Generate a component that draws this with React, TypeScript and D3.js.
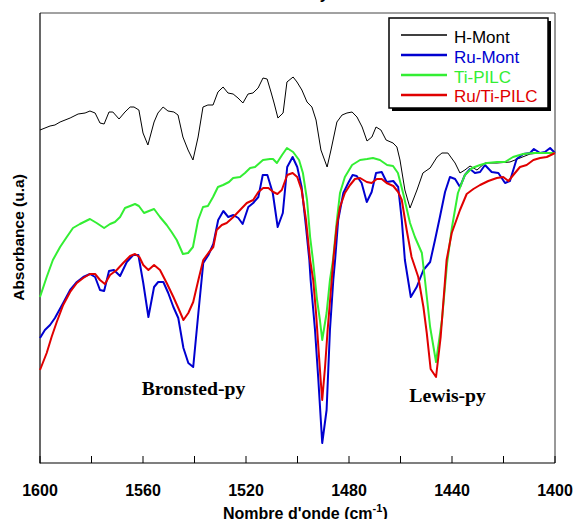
import React from "react";
import * as d3 from "d3";

// wavenumber (cm-1), absorbance (u.a)
const hMont: [number, number][] = [
  [1600, 3.33], [1596.1, 3.37], [1594.2, 3.38], [1592.2, 3.41], [1588.3, 3.45], [1585.2, 3.49],
  [1582.5, 3.5], [1580.6, 3.52], [1578.6, 3.5], [1576.7, 3.4], [1575.1, 3.39], [1573.2, 3.51],
  [1571.7, 3.51], [1569.3, 3.44], [1567.0, 3.51], [1565.0, 3.56], [1563.5, 3.56], [1561.6, 3.53],
  [1560.0, 3.3], [1558.1, 3.18], [1555.7, 3.41], [1554.2, 3.5], [1552.2, 3.56], [1550.3, 3.52],
  [1548.0, 3.51], [1546.4, 3.48], [1544.5, 3.26], [1542.5, 3.13], [1540.6, 3.03], [1538.6, 3.26],
  [1536.7, 3.56], [1534.8, 3.58], [1532.8, 3.58], [1530.9, 3.71], [1528.9, 3.76], [1527.0, 3.7],
  [1525.0, 3.69], [1523.1, 3.65], [1521.2, 3.6], [1519.2, 3.69], [1517.3, 3.7], [1515.3, 3.75],
  [1513.4, 3.85], [1511.8, 3.84], [1510.3, 3.71], [1509.1, 3.6], [1507.6, 3.45], [1505.6, 3.5],
  [1504.1, 3.81], [1501.7, 3.86], [1500.2, 3.81], [1498.3, 3.73], [1496.3, 3.61], [1494.4, 3.56],
  [1492.8, 3.43], [1490.9, 3.13], [1488.5, 2.96], [1487.0, 3.13], [1484.7, 3.41], [1482.7, 3.48],
  [1480.8, 3.5], [1478.8, 3.51], [1476.9, 3.46], [1474.9, 3.36], [1473.0, 3.22], [1471.1, 3.26],
  [1469.5, 3.36], [1467.6, 3.33], [1465.6, 3.23], [1462.9, 3.2], [1461.4, 3.16], [1460.2, 3.03],
  [1458.3, 2.73], [1456.3, 2.55], [1453.6, 2.73], [1451.3, 2.9], [1448.5, 2.95], [1445.8, 3.06],
  [1443.9, 3.1], [1441.6, 3.1], [1438.8, 3.0], [1436.9, 2.9], [1435.0, 2.93], [1433.0, 2.97],
  [1430.3, 2.93], [1427.2, 3.0], [1422.5, 3.0], [1417.5, 3.01], [1413.6, 3.05], [1409.7, 3.09],
  [1405.8, 3.1], [1400, 3.1],
];

const ruMont: [number, number][] = [
  [1600, 1.25], [1598.1, 1.33], [1596.1, 1.38], [1594.2, 1.45], [1591.0, 1.6], [1588.3, 1.73],
  [1585.7, 1.81], [1583.2, 1.86], [1580.6, 1.89], [1578.6, 1.86], [1576.7, 1.73], [1575.1, 1.72],
  [1573.2, 1.92], [1571.3, 1.93], [1568.9, 1.87], [1566.3, 2.01], [1563.8, 2.08], [1561.8, 2.08],
  [1559.9, 1.8], [1557.9, 1.46], [1555.7, 1.76], [1554.1, 1.81], [1552.1, 1.81], [1550.2, 1.7],
  [1548.2, 1.56], [1546.3, 1.45], [1544.3, 1.15], [1542.4, 1.0], [1540.5, 0.96], [1538.5, 1.5],
  [1536.6, 2.0], [1534.6, 2.08], [1532.7, 2.19], [1530.8, 2.43], [1528.8, 2.52], [1526.9, 2.46],
  [1524.9, 2.48], [1523.0, 2.45], [1521.3, 2.39], [1519.1, 2.56], [1517.2, 2.6], [1515.2, 2.66],
  [1513.5, 2.88], [1511.7, 2.88], [1509.6, 2.7], [1507.7, 2.36], [1505.7, 2.5], [1504.0, 2.96],
  [1501.9, 3.06], [1500.1, 2.96], [1498.4, 2.76], [1496.7, 2.36], [1495.4, 2.03], [1494.9, 1.83],
  [1493.2, 1.33], [1491.9, 0.83], [1490.4, 0.2], [1488.7, 0.53], [1487.4, 1.33], [1486.1, 1.83],
  [1485.4, 2.03], [1484.2, 2.43], [1482.2, 2.7], [1480.3, 2.8], [1478.6, 2.88], [1477.0, 2.87],
  [1475.1, 2.8], [1473.1, 2.61], [1471.2, 2.71], [1469.5, 2.9], [1467.3, 2.91], [1465.4, 2.81],
  [1462.8, 2.82], [1460.9, 2.76], [1459.5, 2.43], [1458.3, 2.03], [1456.0, 1.66], [1453.7, 1.76],
  [1451.1, 1.93], [1448.5, 2.01], [1446.6, 2.23], [1444.7, 2.46], [1442.7, 2.71], [1440.8, 2.86],
  [1438.8, 2.84], [1436.9, 2.76], [1435.0, 2.88], [1433.0, 2.94], [1431.1, 2.9], [1429.1, 2.91],
  [1427.2, 2.98], [1424.6, 2.91], [1422.0, 2.9], [1419.4, 2.8], [1417.5, 2.82], [1414.9, 3.04],
  [1412.3, 3.09], [1409.7, 3.1], [1408.2, 3.14], [1405.8, 3.1], [1403.9, 3.11], [1401.9, 3.15],
  [1400, 3.1],
];

const tiPilc: [number, number][] = [
  [1600, 1.66], [1597.4, 1.86], [1595.0, 2.03], [1592.2, 2.16], [1589.6, 2.26], [1587.2, 2.35],
  [1584.5, 2.39], [1580.6, 2.44], [1578.0, 2.4], [1575.1, 2.35], [1572.8, 2.39], [1570.9, 2.41],
  [1568.9, 2.46], [1567.0, 2.55], [1565.0, 2.57], [1563.1, 2.59], [1561.6, 2.57], [1559.6, 2.5],
  [1557.7, 2.52], [1555.7, 2.54], [1553.4, 2.46], [1550.8, 2.38], [1548.9, 2.31], [1546.9, 2.23],
  [1544.5, 2.09], [1542.5, 2.1], [1540.6, 2.16], [1538.6, 2.43], [1536.7, 2.56], [1534.8, 2.57],
  [1532.8, 2.66], [1530.9, 2.76], [1528.9, 2.78], [1526.6, 2.81], [1525.0, 2.85], [1522.3, 2.86],
  [1520.4, 2.9], [1518.4, 2.95], [1516.5, 2.96], [1513.4, 3.03], [1510.7, 3.04], [1509.5, 3.04],
  [1508.0, 3.0], [1506.0, 3.08], [1504.1, 3.15], [1501.7, 3.11], [1499.4, 3.03], [1497.9, 2.9],
  [1496.3, 2.63], [1495.1, 2.26], [1494.0, 2.03], [1492.4, 1.63], [1491.3, 1.43], [1490.4, 1.23],
  [1488.7, 1.5], [1487.4, 1.83], [1486.2, 2.03], [1484.7, 2.43], [1483.5, 2.7], [1481.6, 2.86],
  [1478.8, 2.98], [1475.7, 3.03], [1473.0, 3.04], [1470.7, 3.05], [1468.0, 3.03], [1465.2, 2.98],
  [1462.9, 2.97], [1461.0, 2.9], [1459.0, 2.7], [1456.3, 2.4], [1454.4, 2.26], [1451.7, 2.1],
  [1450.5, 1.83], [1448.5, 1.36], [1446.2, 1.01], [1443.9, 1.43], [1441.9, 2.0], [1440.0, 2.36],
  [1437.7, 2.7], [1435.0, 2.88], [1432.2, 2.95], [1429.1, 2.98], [1426.4, 3.0], [1422.5, 3.01],
  [1419.4, 3.01], [1416.3, 3.06], [1412.4, 3.09], [1408.5, 3.1], [1404.7, 3.1], [1400, 3.1],
];

const ruTiPilc: [number, number][] = [
  [1600, 0.93], [1597.4, 1.1], [1595.5, 1.26], [1593.5, 1.41], [1591.0, 1.58], [1588.3, 1.71],
  [1585.7, 1.8], [1583.2, 1.85], [1580.6, 1.89], [1578.6, 1.89], [1576.7, 1.83], [1574.8, 1.79],
  [1572.8, 1.88], [1570.2, 1.93], [1567.7, 2.0], [1565.0, 2.07], [1563.1, 2.09], [1561.4, 2.06],
  [1559.9, 1.98], [1557.9, 1.93], [1555.7, 1.98], [1553.4, 1.93], [1550.8, 1.8], [1548.2, 1.66],
  [1546.3, 1.55], [1544.3, 1.43], [1542.4, 1.5], [1540.5, 1.61], [1538.5, 1.83], [1536.6, 2.03],
  [1534.6, 2.1], [1532.7, 2.16], [1531.4, 2.33], [1529.4, 2.38], [1527.5, 2.4], [1524.9, 2.46],
  [1522.3, 2.53], [1519.7, 2.6], [1517.2, 2.63], [1515.2, 2.71], [1513.3, 2.75], [1511.3, 2.75],
  [1509.4, 2.71], [1507.8, 2.69], [1506.1, 2.73], [1504.0, 2.88], [1501.9, 2.9], [1500.1, 2.86],
  [1498.4, 2.73], [1496.7, 2.43], [1495.1, 2.03], [1493.9, 1.83], [1492.8, 1.5], [1491.9, 1.16],
  [1491.0, 0.83], [1490.4, 0.63], [1489.3, 0.96], [1488.3, 1.33], [1486.7, 1.83], [1486.1, 2.03],
  [1484.8, 2.36], [1483.5, 2.56], [1481.6, 2.7], [1479.6, 2.78], [1477.7, 2.84], [1475.7, 2.85],
  [1473.1, 2.81], [1471.2, 2.8], [1469.2, 2.84], [1467.3, 2.84], [1465.4, 2.8], [1462.8, 2.77],
  [1460.9, 2.71], [1459.5, 2.63], [1457.6, 2.33], [1455.7, 2.06], [1453.1, 1.86], [1451.1, 1.56],
  [1449.8, 1.3], [1448.3, 0.94], [1446.2, 0.86], [1444.4, 1.26], [1442.1, 2.03], [1440.1, 2.3],
  [1436.9, 2.53], [1434.3, 2.69], [1431.7, 2.74], [1429.1, 2.78], [1425.9, 2.82], [1422.6, 2.85],
  [1420.1, 2.86], [1418.1, 2.82], [1416.2, 2.88], [1413.6, 2.96], [1411.0, 2.98], [1408.4, 3.03],
  [1405.8, 3.05], [1403.2, 3.06], [1400, 3.1],
];

const seriesNames = ["H-Mont", "Ru-Mont", "Ti-PILC", "Ru/Ti-PILC"];
const seriesColors = ["#000000", "#0000d0", "#33ee33", "#e00000"];
const seriesWidths = [1, 2, 2, 2];
const seriesData = [hMont, ruMont, tiPilc, ruTiPilc];

const xTickLabels = [1600, 1560, 1520, 1480, 1440, 1400];
const xMinorTicks = d3.range(1400, 1601, 20);

const annotations: { text: string; wn: number; a: number }[] = [
  { text: "Bronsted-py", wn: 1540.4, a: 0.68 },
  { text: "Lewis-py", wn: 1441.7, a: 0.61 },
];

const W = 573;
const H = 519;
const M = { left: 40, right: 555, top: 13, bottom: 463 };

export default function App() {
  const x = d3.scaleLinear().domain([1600, 1400]).range([M.left, M.right]);
  const y = d3.scaleLinear().domain([0, 4.5]).range([M.bottom, M.top]);
  const line = d3
    .line<[number, number]>()
    .x((d) => x(d[0]))
    .y((d) => y(d[1]));

  const font = "'Liberation Sans', Arial, sans-serif";
  const serif = "'Liberation Serif', 'Times New Roman', serif";
  const legX = 389;
  const legY = 18;
  const legW = 159;
  const legH = 90;

  return (
    <svg
      width={W}
      height={H}
      style={{ position: "absolute", left: 0, top: 0, background: "#fff" }}
    >
      <rect x={0} y={0} width={W} height={H} fill="#fff" />
      {/* title, cut off at the top edge as in the source */}
      <text x={309} y={-1} fontFamily={font} fontWeight="bold" fontSize={16}>
        Pyridine
      </text>
      {/* frame */}
      <line x1={M.left} x2={M.right} y1={M.top} y2={M.top} stroke="#444" strokeWidth={1} />
      <line x1={M.right} x2={M.right} y1={M.top} y2={M.bottom} stroke="#333" strokeWidth={1} />
      <line x1={M.left} x2={M.left} y1={M.top} y2={M.bottom + 0.5} stroke="#000" strokeWidth={1.2} />
      <line x1={M.left} x2={M.right} y1={M.bottom} y2={M.bottom} stroke="#000" strokeWidth={1.2} />
      {xMinorTicks.map((t) => (
        <line key={t} x1={x(t)} x2={x(t)} y1={M.bottom} y2={M.bottom - 7} stroke="#000" strokeWidth={1} />
      ))}
      {xTickLabels.map((t) => (
        <text
          key={t}
          x={x(t)}
          y={496}
          textAnchor="middle"
          fontFamily={font}
          fontWeight="bold"
          fontSize={16}
        >
          {t}
        </text>
      ))}
      <text x={223} y={519} fontFamily={font} fontWeight="bold" fontSize={16}>
        Nombre d'onde (cm
        <tspan dy={-7} fontSize={11}>-1</tspan>
        <tspan dy={7}>)</tspan>
      </text>
      <text
        transform={`translate(24, 237.5) rotate(-90)`}
        textAnchor="middle"
        fontFamily={font}
        fontWeight="bold"
        fontSize={15.5}
      >
        Absorbance (u.a)
      </text>

      {/* series */}
      {seriesData.map((d, i) => (
        <path
          key={seriesNames[i]}
          d={line(d) || ""}
          fill="none"
          stroke={seriesColors[i]}
          strokeWidth={seriesWidths[i]}
          strokeLinejoin="round"
        />
      ))}

      {annotations.map((a) => (
        <text
          key={a.text}
          x={x(a.wn)}
          y={y(a.a)}
          textAnchor="middle"
          fontFamily={serif}
          fontWeight="bold"
          fontSize={19.7}
        >
          {a.text}
        </text>
      ))}

      {/* legend */}
      <rect x={legX + 3} y={legY + 3} width={legW} height={legH} fill="#000" />
      <rect x={legX} y={legY} width={legW} height={legH} fill="#fff" stroke="#000" strokeWidth={1.5} />
      {seriesNames.map((n, i) => (
        <g key={n}>
          <line
            x1={legX + 12}
            x2={legX + 58}
            y1={legY + 17 + i * 20}
            y2={legY + 17 + i * 20}
            stroke={seriesColors[i]}
            strokeWidth={seriesWidths[i] + 0.3}
          />
          <text
            x={legX + 65}
            y={legY + 25 + i * 19.8}
            fontFamily={font}
            fontSize={17}
            fill={seriesColors[i]}
          >
            {n}
          </text>
        </g>
      ))}
    </svg>
  );
}
